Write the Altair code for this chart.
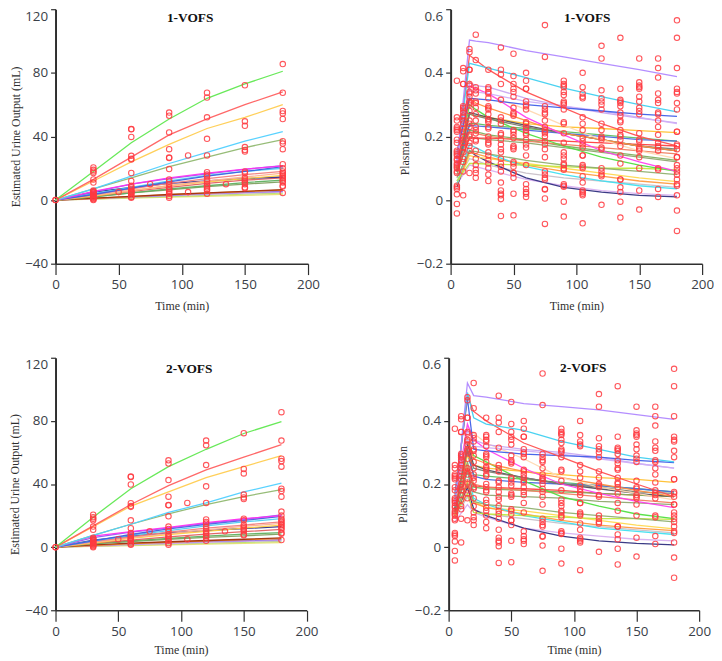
import altair as alt
import pandas as pd

# ---------- observed points (same in both rows) ----------
URINE_OBS = {
    0: [0, 0],
    30: [20.5, 19, 18, 17, 13, 11, 6, 5.5, 5, 4.5, 4, 3.5, 3, 2.5, 2, 1.5, 1, 0.5, 0],
    50: [5],
    60: [44.7, 44.5, 39.7, 27.8, 26, 25.5, 17, 12, 9, 8, 7, 6, 5.5, 5, 4.5, 4, 3, 2, 1.5],
    75: [10],
    90: [55, 53, 42.5, 32, 26.7, 26.5, 19.5, 13, 11.5, 10, 8, 7, 6, 5, 4, 2.5, 1.5],
    105: [28, 5],
    120: [67.5, 64.5, 52, 38.5, 28, 17.5, 16, 15, 13, 11.5, 10, 9, 8, 7, 6, 4],
    135: [10],
    150: [72.2, 49.5, 46.7, 33.3, 31.5, 30.5, 18, 17, 14, 13, 12, 11, 10, 8, 7.5],
    180: [85.5, 67.5, 56, 54.5, 51, 37, 35.5, 32, 22.5, 20, 18, 17, 16, 15, 14, 13, 12, 11, 9, 8.5, 4.5],
}
PLASMA_OBS = {
    5: [0.375, 0.26, 0.25, 0.23, 0.225, 0.22, 0.215, 0.19, 0.18, 0.155, 0.15, 0.145, 0.14, 0.13, 0.125,
        0.115, 0.11, 0.105, 0.10, 0.09, 0.085, 0.045, 0.04, 0.035, 0.018, -0.012, -0.042],
    10: [0.415, 0.405, 0.365, 0.365, 0.295, 0.29, 0.285, 0.275, 0.265, 0.26, 0.25, 0.24, 0.225, 0.215,
         0.2, 0.19, 0.18, 0.165, 0.15, 0.13, 0.12, 0.09, 0.015],
    15: [0.475, 0.465, 0.41, 0.41, 0.365, 0.36, 0.34, 0.335, 0.325, 0.31, 0.305, 0.3, 0.28, 0.25, 0.24,
         0.23, 0.205, 0.2, 0.18, 0.17, 0.155, 0.085],
    20: [0.52, 0.44, 0.355, 0.345, 0.335, 0.31, 0.305, 0.29, 0.27, 0.25, 0.23, 0.22, 0.21, 0.19, 0.185,
         0.155, 0.13, 0.11, 0.095, 0.085, 0.07],
    30: [0.41, 0.355, 0.35, 0.34, 0.335, 0.32, 0.295, 0.29, 0.285, 0.27, 0.255, 0.25, 0.245, 0.23, 0.225,
         0.2, 0.19, 0.18, 0.175, 0.15, 0.14, 0.125, 0.115, 0.1, 0.08, 0.06],
    40: [0.48, 0.41, 0.395, 0.365, 0.315, 0.26, 0.25, 0.24, 0.21, 0.205, 0.19, 0.175, 0.16, 0.15, 0.13,
         0.115, 0.105, 0.09, 0.055, 0.03, 0.02, 0.015, 0.003, -0.05],
    50: [0.46, 0.39, 0.365, 0.35, 0.34, 0.325, 0.29, 0.275, 0.27, 0.265, 0.22, 0.215, 0.205, 0.195, 0.17,
         0.165, 0.16, 0.12, 0.115, 0.105, 0.085, 0.085, 0.07, 0.02, -0.048],
    60: [0.4, 0.375, 0.35, 0.35, 0.31, 0.3, 0.295, 0.285, 0.245, 0.24, 0.23, 0.22, 0.21, 0.205, 0.19,
         0.175, 0.165, 0.14, 0.11, 0.05, 0.035, 0.025, 0.02, 0.01],
    75: [0.55, 0.45, 0.295, 0.285, 0.275, 0.27, 0.25, 0.23, 0.22, 0.215, 0.21, 0.2, 0.185, 0.175, 0.16,
         0.135, 0.09, 0.08, 0.07, 0.065, 0.035, 0.033, 0.005, -0.075],
    90: [0.375, 0.365, 0.36, 0.355, 0.34, 0.33, 0.31, 0.305, 0.3, 0.285, 0.245, 0.24, 0.21, 0.18, 0.15,
         0.14, 0.13, 0.115, 0.11, 0.1, 0.095, 0.05, 0.045, 0.042, -0.005, -0.052],
    105: [0.4, 0.355, 0.335, 0.325, 0.32, 0.26, 0.24, 0.22, 0.195, 0.185, 0.175, 0.165, 0.14, 0.14, 0.11,
          0.105, 0.1, 0.075, 0.055, 0.03, 0.025, 0.02, 0.015, -0.073],
    120: [0.485, 0.445, 0.345, 0.32, 0.31, 0.3, 0.285, 0.24, 0.22, 0.2, 0.195, 0.19, 0.165, 0.16, 0.1,
          0.09, 0.08, 0.075, -0.015],
    135: [0.51, 0.35, 0.315, 0.31, 0.305, 0.295, 0.275, 0.265, 0.25, 0.245, 0.22, 0.205, 0.2, 0.19, 0.17,
          0.14, 0.115, 0.065, 0.065, 0.04, 0.025, -0.005, -0.055],
    150: [0.445, 0.37, 0.36, 0.355, 0.35, 0.325, 0.31, 0.29, 0.28, 0.27, 0.21, 0.19, 0.185, 0.165, 0.16,
          0.155, 0.135, 0.1, 0.03, -0.03],
    165: [0.445, 0.415, 0.385, 0.335, 0.315, 0.305, 0.275, 0.27, 0.25, 0.23, 0.205, 0.18, 0.17, 0.165,
          0.155, 0.1, 0.095, 0.035, 0.01],
    180: [0.565, 0.51, 0.415, 0.35, 0.34, 0.335, 0.305, 0.285, 0.215, 0.215, 0.175, 0.17, 0.16, 0.135,
          0.135, 0.11, 0.1, 0.09, 0.08, 0.065, 0.05, 0.045, 0.015, -0.033, -0.097],
}

# ---------- fitted curves ----------
URINE_TIMES = [0, 30, 60, 90, 120, 150, 180]
URINE_COLORS = ["#e8e070", "#b8e070", "#d0a8f0", "#9070e0", "#ff9a20", "#a03010", "#80a060", "#60b060",
                "#e06060", "#303090", "#ffd040", "#ffb090", "#f08080", "#50d0f0", "#4060e0", "#9060f0",
                "#ff30f0", "#90b870", "#50d0ff", "#ffcc50", "#ff6060", "#60e850"]
URINE_1 = [
    [0, 0.6, 1.2, 1.8, 2.4, 3, 3.6],
    [0, 0.7, 1.5, 2.2, 3, 3.7, 4.4],
    [0, 0.8, 1.8, 2.8, 3.6, 4.4, 5],
    [0, 1, 2, 3, 4, 4.8, 5.5],
    [0, 1, 2.2, 3.4, 4.4, 5.4, 6.2],
    [0, 1.2, 2.3, 3.5, 4.5, 5.5, 6.5],
    [0, 2, 4.5, 6.5, 8.5, 10, 11.5],
    [0, 2, 4.5, 7, 9, 11, 12.5],
    [0, 2.5, 5.5, 8, 10.5, 12.5, 14],
    [0, 5, 8, 10.5, 12, 13.5, 14.5],
    [0, 2.5, 6, 9, 11.5, 13.5, 15.5],
    [0, 3, 6, 9, 12, 14.5, 17],
    [0, 3.5, 7, 10.5, 13.5, 16, 18],
    [0, 4, 8, 12, 15.5, 18, 20],
    [0, 3.5, 7.5, 11.5, 15, 18, 21],
    [0, 5, 10, 13.5, 16.5, 19.3, 21.7],
    [0, 5.5, 10, 14, 17, 19.5, 21.5],
    [0, 7, 14, 21, 27, 33, 38],
    [0, 7, 15, 23, 30, 37, 43],
    [0, 12, 24, 35, 45, 52, 60],
    [0, 13, 27, 41, 51, 60, 68],
    [0, 18, 36, 51, 64, 73, 81],
]
URINE_2 = [
    [0, 0.5, 1, 1.4, 1.9, 2.4, 2.8],
    [0, 0.6, 1.3, 1.9, 2.5, 3.1, 3.6],
    [0, 0.7, 1.6, 2.3, 3, 3.6, 4.2],
    [0, 1, 2, 2.9, 3.6, 4.2, 4.8],
    [0, 1, 2.2, 3.1, 3.9, 4.7, 5.4],
    [0, 1.4, 2.5, 3.4, 4.2, 5, 5.8],
    [0, 2, 3.5, 5, 6.2, 7.2, 8.2],
    [0, 2.2, 4, 5.6, 7, 8.2, 9.2],
    [0, 2.5, 4.5, 6.5, 8.2, 9.8, 11.2],
    [0, 4.5, 7, 9, 10.5, 11.8, 13],
    [0, 2.5, 5.5, 8, 10, 12, 14],
    [0, 3, 6, 8.5, 11, 13.2, 15],
    [0, 3.5, 6.5, 9.5, 12, 14, 16],
    [0, 4, 7.5, 10.5, 13.5, 16, 18],
    [0, 4, 8, 11.5, 14.5, 17, 19.5],
    [0, 6, 9.5, 12, 15, 17.5, 20.5],
    [0, 7, 9.8, 12.5, 15.5, 18, 20],
    [0, 7.5, 14.5, 21, 27, 32, 36.5],
    [0, 7.5, 14.5, 22, 28, 35, 40.5],
    [0, 13, 26, 35, 44, 51, 58],
    [0, 13.5, 27, 39, 49, 57, 65],
    [0, 19, 37, 51, 62, 72, 79.5],
]

PLASMA_TIMES = [5, 15, 20, 30, 60, 90, 120, 150, 180]
PLASMA_COLORS = ["#c8c0c8", "#d8b0f0", "#303080", "#ffd850", "#ff9a40", "#40e0f0", "#c0e840", "#90b070",
                 "#90a870", "#ff4040", "#80b060", "#f08060", "#60c060", "#4a6ae0", "#ffc030", "#50e040",
                 "#505060", "#808070", "#ff9040", "#ffd8b0", "#ff40f0", "#c8a8f0", "#d0b0f8", "#3f5fe8",
                 "#ff5050", "#40d0f0", "#b088ff"]
PLASMA_1 = [
    [0.06, 0.13, 0.125, 0.11, 0.085, 0.07, 0.06, 0.05, 0.04],
    [0.05, 0.11, 0.105, 0.095, 0.065, 0.045, 0.03, 0.02, 0.015],
    [0.04, 0.155, 0.14, 0.12, 0.07, 0.04, 0.025, 0.015, 0.01],
    [0.05, 0.14, 0.135, 0.13, 0.115, 0.10, 0.085, 0.07, 0.058],
    [0.05, 0.15, 0.145, 0.135, 0.11, 0.09, 0.075, 0.06, 0.05],
    [0.05, 0.175, 0.165, 0.145, 0.105, 0.08, 0.06, 0.045, 0.035],
    [0.06, 0.115, 0.115, 0.113, 0.11, 0.105, 0.10, 0.10, 0.095],
    [0.07, 0.155, 0.152, 0.145, 0.125, 0.11, 0.10, 0.09, 0.08],
    [0.08, 0.20, 0.195, 0.19, 0.18, 0.165, 0.15, 0.135, 0.12],
    [0.09, 0.195, 0.195, 0.195, 0.19, 0.185, 0.18, 0.175, 0.17],
    [0.09, 0.22, 0.215, 0.205, 0.19, 0.17, 0.155, 0.14, 0.125],
    [0.10, 0.215, 0.21, 0.20, 0.185, 0.175, 0.165, 0.155, 0.145],
    [0.10, 0.24, 0.24, 0.235, 0.225, 0.215, 0.205, 0.195, 0.185],
    [0.10, 0.235, 0.233, 0.23, 0.22, 0.21, 0.20, 0.19, 0.185],
    [0.10, 0.27, 0.265, 0.26, 0.24, 0.23, 0.225, 0.218, 0.212],
    [0.10, 0.30, 0.285, 0.26, 0.21, 0.17, 0.135, 0.11, 0.09],
    [0.09, 0.275, 0.27, 0.26, 0.235, 0.21, 0.19, 0.17, 0.155],
    [0.09, 0.27, 0.265, 0.255, 0.23, 0.21, 0.19, 0.17, 0.16],
    [0.10, 0.32, 0.305, 0.29, 0.25, 0.21, 0.19, 0.17, 0.155],
    [0.12, 0.375, 0.355, 0.33, 0.285, 0.235, 0.19, 0.155, 0.13],
    [0.11, 0.36, 0.35, 0.335, 0.26, 0.205, 0.155, 0.12, 0.09],
    [0.12, 0.37, 0.36, 0.355, 0.32, 0.295, 0.275, 0.258, 0.243],
    [0.13, 0.345, 0.34, 0.335, 0.31, 0.295, 0.28, 0.26, 0.24],
    [0.15, 0.32, 0.318, 0.315, 0.30, 0.29, 0.28, 0.27, 0.263],
    [0.13, 0.455, 0.44, 0.41, 0.34, 0.29, 0.24, 0.20, 0.17],
    [0.13, 0.43, 0.425, 0.415, 0.385, 0.352, 0.325, 0.30, 0.277],
    [0.12, 0.503, 0.50, 0.495, 0.47, 0.45, 0.43, 0.41, 0.388],
]
PLASMA_2 = [
    [0.09, 0.16, 0.12, 0.105, 0.09, 0.075, 0.065, 0.055, 0.045],
    [0.08, 0.135, 0.11, 0.095, 0.06, 0.045, 0.035, 0.025, 0.02],
    [0.10, 0.19, 0.12, 0.10, 0.06, 0.035, 0.02, 0.012, 0.007],
    [0.10, 0.20, 0.145, 0.125, 0.115, 0.10, 0.085, 0.07, 0.058],
    [0.10, 0.21, 0.14, 0.125, 0.105, 0.085, 0.07, 0.06, 0.052],
    [0.11, 0.24, 0.155, 0.135, 0.10, 0.08, 0.06, 0.05, 0.04],
    [0.10, 0.17, 0.11, 0.105, 0.10, 0.095, 0.09, 0.09, 0.088],
    [0.11, 0.20, 0.145, 0.135, 0.125, 0.11, 0.10, 0.09, 0.08],
    [0.11, 0.24, 0.175, 0.165, 0.16, 0.155, 0.145, 0.14, 0.135],
    [0.12, 0.25, 0.195, 0.19, 0.185, 0.18, 0.17, 0.165, 0.16],
    [0.11, 0.27, 0.19, 0.185, 0.18, 0.175, 0.17, 0.165, 0.16],
    [0.12, 0.26, 0.20, 0.19, 0.18, 0.17, 0.16, 0.15, 0.14],
    [0.12, 0.30, 0.23, 0.225, 0.215, 0.205, 0.195, 0.185, 0.175],
    [0.12, 0.30, 0.225, 0.215, 0.205, 0.20, 0.195, 0.185, 0.175],
    [0.13, 0.29, 0.26, 0.25, 0.24, 0.23, 0.22, 0.215, 0.205],
    [0.13, 0.34, 0.29, 0.27, 0.21, 0.16, 0.13, 0.105, 0.09],
    [0.12, 0.33, 0.26, 0.245, 0.22, 0.20, 0.185, 0.17, 0.16],
    [0.12, 0.31, 0.25, 0.24, 0.22, 0.20, 0.19, 0.175, 0.17],
    [0.13, 0.34, 0.28, 0.265, 0.24, 0.22, 0.20, 0.18, 0.16],
    [0.14, 0.38, 0.36, 0.33, 0.28, 0.22, 0.19, 0.17, 0.15],
    [0.14, 0.39, 0.34, 0.31, 0.25, 0.20, 0.17, 0.145, 0.125],
    [0.14, 0.37, 0.34, 0.325, 0.31, 0.30, 0.285, 0.265, 0.25],
    [0.15, 0.34, 0.32, 0.315, 0.305, 0.295, 0.28, 0.265, 0.25],
    [0.17, 0.47, 0.31, 0.305, 0.295, 0.29, 0.285, 0.275, 0.268],
    [0.16, 0.48, 0.43, 0.40, 0.33, 0.285, 0.24, 0.20, 0.16],
    [0.15, 0.49, 0.41, 0.39, 0.37, 0.335, 0.31, 0.285, 0.27],
    [0.13, 0.52, 0.48, 0.475, 0.455, 0.445, 0.435, 0.42, 0.405],
]

X_TICKS = [0, 25, 50, 75, 100, 125, 150, 175, 200]
URINE_TICKS = [-40, -20, 0, 20, 40, 60, 80, 100, 120]
PLASMA_TICKS = [-0.2, -0.1, 0, 0.1, 0.2, 0.3, 0.4, 0.5, 0.6]

LABEL_FONT = "Open Sans"
SERIF = "Liberation Serif"
INK = "#2f2f2f"
TEXT = "#3a4048"


def panel(times, curves, colors, obs, ticks, top_tick, step, ytitle, ydomain, title, w, h, title_x, title_y, ytitle_x, xtitle_y):
    rows = []
    for i, vals in enumerate(curves):
        for t, v in zip(times, vals):
            rows.append({"s": i, "c": colors[i], "t": t, "v": v})
    curve_df = pd.DataFrame(rows)
    obs_df = pd.DataFrame([{"t": t, "v": v} for t, vs in obs.items() for v in vs])

    major_test = f"abs(round(datum.value/{step})) % 2 === 0"
    x = alt.X(
        "t:Q",
        scale=alt.Scale(domain=[0, 200], nice=False),
        axis=alt.Axis(
            values=X_TICKS, title="Time (min)", grid=False,
            labelExpr="datum.value % 50 === 0 ? datum.label : ''",
            tickSize=alt.condition("datum.value % 50 === 0", alt.value(11), alt.value(6)),
            labelPadding=3, titleY=xtitle_y, titleBaseline="middle",
            labelFont=LABEL_FONT, labelFontSize=13.5, labelColor=TEXT,
            titleFont=SERIF, titleFontSize=12, titleFontWeight="normal", titleColor=INK,
            domainColor=INK, domainWidth=1.6, tickColor=INK, tickWidth=1.2, labelFlush=False, labelOverlap=False,
        ),
    )
    y = alt.Y(
        "v:Q",
        scale=alt.Scale(domain=ydomain, nice=False, zero=False),
        axis=alt.Axis(
            values=ticks, title=ytitle, grid=False,
            labelExpr=f"abs(datum.value) < 1e-9 ? '0' : ({major_test} ? format(datum.value, '~g') : '')",
            tickSize=alt.condition(major_test, alt.value(5), alt.value(3)),
            labelBaseline=alt.condition(f"datum.value === {top_tick}", alt.value("top"), alt.value("middle")),
            labelPadding=3, titleX=ytitle_x, titleBaseline="middle",
            labelFont=LABEL_FONT, labelFontSize=13.5, labelColor=TEXT,
            titleFont=SERIF, titleFontSize=12, titleFontWeight="normal", titleColor=INK,
            domainColor=INK, domainWidth=2, tickColor=INK, tickWidth=1.2, labelOverlap=False,
        ),
    )
    lines = alt.Chart(curve_df).mark_line(strokeWidth=1.3, clip=False, opacity=0.95).encode(
        x=x, y=y,
        detail="s:N",
        order="t:Q",
        color=alt.Color("c:N", scale=None),
    )
    pts = alt.Chart(obs_df).mark_point(shape="circle", size=30, filled=False, stroke="#ff3a40", strokeWidth=1.1, opacity=0.85).encode(x="t:Q", y="v:Q")
    label = alt.Chart(pd.DataFrame({"label": [title]})).mark_text(
        font=SERIF, fontSize=13.5, fontWeight="bold", color="#111111", baseline="middle", align="center"
    ).encode(x=alt.value(title_x), y=alt.value(title_y), text="label:N")
    return alt.layer(lines, pts, label).properties(width=w, height=h)


A = panel(URINE_TIMES, URINE_1, URINE_COLORS, URINE_OBS, URINE_TICKS, 120, 20, "Estimated Urine Output (mL)", [-40, 120], "1-VOFS", 255, 257, 136, 9, -40, 42)
B = panel(PLASMA_TIMES, PLASMA_1, PLASMA_COLORS, PLASMA_OBS, PLASMA_TICKS, 0.6, 0.1, "Plasma Dilution", [-0.2, 0.6], "1-VOFS", 254, 257, 138, 9, -47, 42)
C = panel(URINE_TIMES, URINE_2, URINE_COLORS, URINE_OBS, URINE_TICKS, 120, 20, "Estimated Urine Output (mL)", [-40, 120], "2-VOFS", 253.5, 255, 135, 11, -41.5, 40)
D = panel(PLASMA_TIMES, PLASMA_2, PLASMA_COLORS, PLASMA_OBS, PLASMA_TICKS, 0.6, 0.1, "Plasma Dilution", [-0.2, 0.6], "2-VOFS", 253, 255, 136, 10, -47, 40)

chart = alt.vconcat(
    alt.hconcat(A, B, spacing=79),
    alt.hconcat(C, D, spacing=78),
    spacing=46,
).properties(padding={"left": 0, "top": -3, "right": 0, "bottom": 0}, background="white").configure_view(stroke=None)

chart.save("out.html", embed_options={"renderer": "svg", "actions": False})
